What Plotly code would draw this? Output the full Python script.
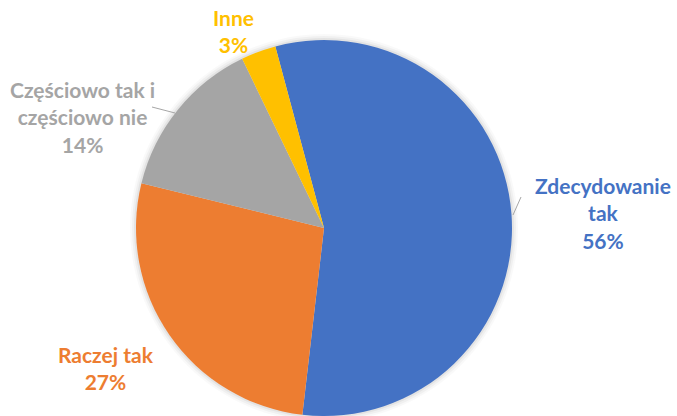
import plotly.graph_objects as go

labels = ["Zdecydowanie tak", "Raczej tak", "Częściowo tak i częściowo nie", "Inne"]
label_lines = ["Zdecydowanie<br>tak", "Raczej tak", "Częściowo tak i<br>częściowo nie", "Inne"]
values = [56, 27, 14, 3]
colors = ["#4472C4", "#ED7D31", "#A5A5A5", "#FFC000"]

W, H = 677, 416
# label block centres in pixels
label_pos = [(603, 213), (106, 368), (82, 117), (234, 31)]

fig = go.Figure()
fig.add_trace(go.Pie(
    labels=labels, values=values, sort=False, direction="clockwise",
    rotation=-15, marker=dict(colors=colors, line=dict(width=0)),
    textinfo="none", hoverinfo="label+percent", showlegend=False,
    domain=dict(x=[135 / W, 513 / W], y=[0, 1 - 40 / H]),
))

for name, val, col, (px, py) in zip(label_lines, values, colors, label_pos):
    fig.add_annotation(
        x=px / W, y=1 - py / H, xref="paper", yref="paper",
        text=f"{name}<br>{val}%", showarrow=False,
        xanchor="center", yanchor="middle", align="center",
        font=dict(family="Lato", size=21, color=col, weight="bold"),
    )

# soft shadow around the pie
cx, cy, r = 324, 228, 188
shapes = []
for dr, a in [(6, 0.025), (4, 0.035), (2, 0.05)]:
    shapes.append(dict(
        type="circle", xref="paper", yref="paper", layer="below",
        x0=(cx - r - dr) / W, x1=(cx + r + dr) / W,
        y0=1 - (cy + r + dr) / H, y1=1 - (cy - r - dr) / H,
        fillcolor=f"rgba(0,0,0,{a})", line=dict(width=0),
    ))
# leader lines
for (x0, y0, x1, y1) in [(152, 107, 175, 113), (521, 197, 513, 215)]:
    shapes.append(dict(
        type="line", xref="paper", yref="paper",
        x0=x0 / W, x1=x1 / W, y0=1 - y0 / H, y1=1 - y1 / H,
        line=dict(color="#A6A6A6", width=1),
    ))

fig.update_layout(
    width=W, height=H, margin=dict(l=0, r=0, t=0, b=0),
    paper_bgcolor="white", plot_bgcolor="white", shapes=shapes,
)
fig.write_html("out.html", config={"displayModeBar": False},
               post_script="document.body.style.margin='0';")
